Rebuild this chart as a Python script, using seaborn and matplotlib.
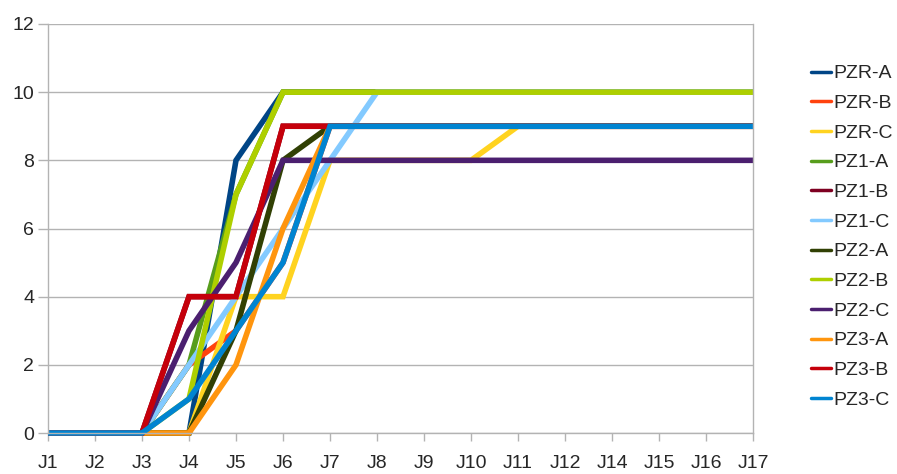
import matplotlib
matplotlib.use("Agg")
import matplotlib.pyplot as plt
from matplotlib.lines import Line2D
import seaborn as sns
import pandas as pd

days = ["J1", "J2", "J3", "J4", "J5", "J6", "J7", "J8", "J9", "J10",
        "J11", "J12", "J14", "J15", "J16", "J17"]

series_names = ["PZR-A", "PZR-B", "PZR-C", "PZ1-A", "PZ1-B", "PZ1-C",
                "PZ2-A", "PZ2-B", "PZ2-C", "PZ3-A", "PZ3-B", "PZ3-C"]

pzr_a = [0, 0, 0, 0, 8, 10, 10, 10, 10, 10, 10, 10, 10, 10, 10, 10]
pzr_b = [0, 0, 0, 2, 3, 5, 9, 9, 9, 9, 9, 9, 9, 9, 9, 9]
pzr_c = [0, 0, 0, 0, 4, 4, 8, 8, 8, 8, 9, 9, 9, 9, 9, 9]
pz1_a = [0, 0, 0, 2, 7, 10, 10, 10, 10, 10, 10, 10, 10, 10, 10, 10]
pz1_b = [0, 0, 0, 4, 4, 9, 9, 9, 9, 9, 9, 9, 9, 9, 9, 9]
pz1_c = [0, 0, 0, 2, 4, 6, 8, 10, 10, 10, 10, 10, 10, 10, 10, 10]
pz2_a = [0, 0, 0, 0, 3, 8, 9, 9, 9, 9, 9, 9, 9, 9, 9, 9]
pz2_b = [0, 0, 0, 1, 7, 10, 10, 10, 10, 10, 10, 10, 10, 10, 10, 10]
pz2_c = [0, 0, 0, 3, 5, 8, 8, 8, 8, 8, 8, 8, 8, 8, 8, 8]
pz3_a = [0, 0, 0, 0, 2, 6, 9, 9, 9, 9, 9, 9, 9, 9, 9, 9]
pz3_b = [0, 0, 0, 4, 4, 9, 9, 9, 9, 9, 9, 9, 9, 9, 9, 9]
pz3_c = [0, 0, 0, 1, 3, 5, 9, 9, 9, 9, 9, 9, 9, 9, 9, 9]

series_values = [pzr_a, pzr_b, pzr_c, pz1_a, pz1_b, pz1_c,
                 pz2_a, pz2_b, pz2_c, pz3_a, pz3_b, pz3_c]

colors = ["#004586", "#ff420e", "#ffd320", "#579d1c", "#7e0021", "#83caff",
          "#314004", "#aecf00", "#4b1f6f", "#ff950e", "#c5000b", "#0084d1"]

y_ticks = [0, 2, 4, 6, 8, 10, 12]

rows = []
for name, vals in zip(series_names, series_values):
    for d, v in zip(days, vals):
        rows.append({"jour": d, "serie": name, "valeur": v})
df = pd.DataFrame(rows)

sns.set_theme(style="white")
plt.rcParams["font.family"] = ["Liberation Sans", "DejaVu Sans"]

fig = plt.figure(figsize=(8.97, 4.74), dpi=100)
ax = fig.add_axes([48 / 897, 1 - 433 / 474, (753 - 48) / 897, (433 - 24) / 474])

palette = dict(zip(series_names, colors))
sns.lineplot(data=df, x="jour", y="valeur", hue="serie", hue_order=series_names,
             palette=palette, linewidth=4, sort=False, legend=False,
             estimator=None, ax=ax, clip_on=False,
             solid_joinstyle="miter", solid_capstyle="butt")

ax.set_xlim(0, len(days) - 1)
ax.set_ylim(0, 12)
ax.set_xticks(range(len(days)))
ax.set_xticklabels(days)
ax.set_yticks(y_ticks)
ax.set_xlabel("")
ax.set_ylabel("")

grid_color = "#b3b3b3"
ax.grid(axis="y", color=grid_color, linewidth=1)
ax.grid(axis="x", visible=False)
ax.set_axisbelow(True)
for side in ["left", "right", "bottom"]:
    ax.spines[side].set_visible(True)
    ax.spines[side].set_color(grid_color)
    ax.spines[side].set_linewidth(1)
ax.spines["top"].set_visible(False)

ax.tick_params(axis="x", direction="out", length=6, width=1, color=grid_color,
               labelsize=14, pad=10, bottom=True)
ax.tick_params(axis="y", direction="out", length=7, width=1, color=grid_color,
               labelsize=14, pad=3, left=True)

handles = [Line2D([0], [0], color=c, linewidth=2.5) for c in colors]
leg = fig.legend(handles, series_names, loc="upper left",
                 bbox_to_anchor=(803 / 897, 1 - 57 / 474), frameon=False,
                 fontsize=14, handlelength=1.05, handletextpad=0.1,
                 labelspacing=0.62, borderaxespad=0)

fig.savefig("out.png", dpi=100)
